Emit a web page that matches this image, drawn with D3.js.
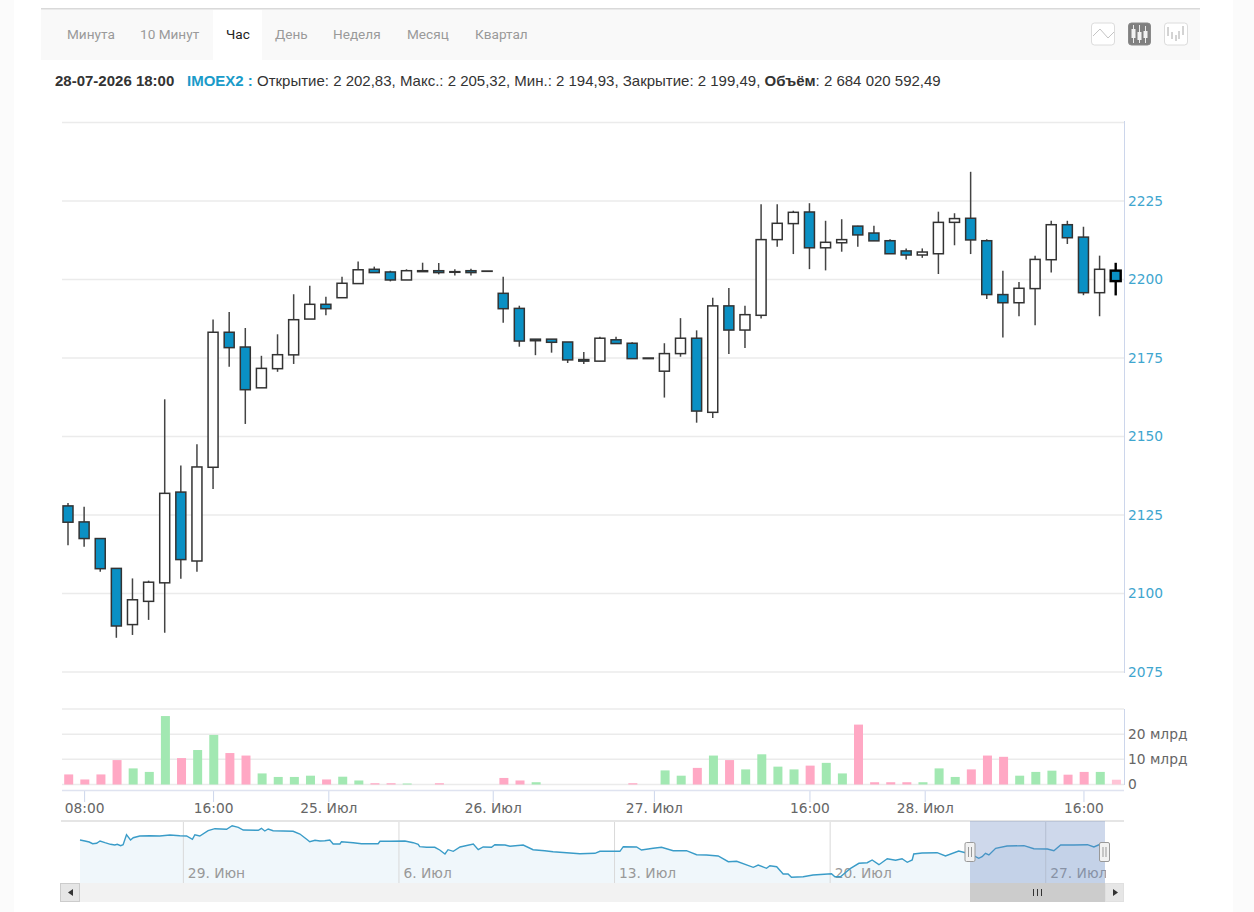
<!DOCTYPE html>
<html lang="ru">
<head>
<meta charset="utf-8">
<title>IMOEX2</title>
<script src="https://cdnjs.cloudflare.com/ajax/libs/d3/7.8.5/d3.min.js"></script>
<style>
  html, body { margin: 0; padding: 0; background: #fff; }
  svg { display: block; }
  .axis text { font-family: "DejaVu Sans", sans-serif; font-size: 13.8px; }
  .axis .domain { display: none; }
</style>
</head>
<body>
<div id="chart"></div>
<script>
// Hourly candles, oldest first
const opens = [2127.9,2122.8,2117.5,2108.0,2090.1,2097.5,2103.4,2132.3,2110.35,2140.2,2183.2,2178.5,2165.5,2171.6,2176,2187.4,2192.1,2194.2,2198.7,2203.25,2202.4,2199.85,2202.5,2202.8,2202.3,2202.8,2202.6,2195.6,2190.8,2181,2181,2180.1,2174.5,2174,2180.8,2179.7,2174.8,2170.8,2176.4,2181.3,2157.7,2191.6,2183.9,2188.6,2212.7,2217.8,2221.5,2210.1,2211.7,2217,2214.8,2212.35,2209.1,2207.8,2208.2,2218.2,2219.5,2212.35,2195.2,2192.6,2197.1,2206.3,2217.45,2213.5,2195.8,2202.83];
const highs = [2128.8,2127.6,2117.6,2108.0,2104.8,2104.1,2161.85,2140.8,2147.5,2187.3,2189.65,2184.55,2175.7,2182.55,2195.3,2198,2194.5,2200.9,2205.7,2204.1,2202.8,2203.25,2205.35,2205.25,2203.25,2203.45,2202.7,2200.9,2191.65,2181,2181,2180.1,2176.9,2181.8,2181.8,2180,2175,2179.7,2187.7,2183.8,2194.2,2197.3,2191.65,2223.95,2223.95,2221.9,2224.3,2218.7,2219.2,2217.1,2217.1,2212.8,2209.9,2209.9,2221.6,2221.1,2234.3,2212.8,2202.8,2199.2,2207.6,2218.7,2218.7,2216.8,2207.6,2205.32];
const lows = [2115.4,2114.9,2106.9,2085.9,2086.8,2091.6,2087.5,2104.7,2106.9,2133.3,2172.2,2154,2165.5,2170.6,2173.1,2187.4,2188.6,2194.2,2198.7,2202.2,2199.4,2199.85,2202.5,2201.65,2201.3,2201.3,2202.6,2186.25,2178.6,2175.9,2176.7,2173.4,2173.1,2174,2179.6,2174.8,2174.8,2162.4,2175.4,2154.4,2155.9,2176.3,2178.2,2187.6,2210.45,2208.1,2203.3,2202.9,2208.85,2210.45,2212.3,2208.2,2206.4,2206.9,2201.75,2210.9,2208.1,2193.8,2181.5,2188.3,2185.4,2202.2,2211.3,2195,2188.3,2194.93];
const closes = [2122.7,2117.5,2107.9,2089.65,2098.0,2103.6,2131.9,2110.8,2140.3,2183.2,2178.3,2164.9,2171.7,2176.05,2187.2,2192.1,2190.7,2198.8,2203.1,2202.2,2199.85,2202.8,2202.8,2202.2,2202.5,2202.2,2202.7,2190.7,2180.4,2180.5,2180,2174.4,2174,2181.3,2179.6,2174.8,2175,2176.4,2181.3,2158.1,2191.6,2183.9,2188.8,2212.7,2217.9,2221.4,2210.1,2211.85,2212.7,2214.2,2212.3,2208.2,2207.8,2208.75,2218.2,2219.4,2212.6,2195.2,2192.6,2197.2,2206.4,2217.45,2213.3,2195.8,2203.25,2199.49];

// Traded volume per candle, billions; "u" bars are green, "d" bars pink, "l" the unfinished pale bar
const volumes = [4,2,4,9.7,6.4,5,27.2,10.5,13.7,19.7,12.5,11.5,4.4,3,3,3.5,2,3.1,1.6,0.5,0.5,0.4,0,0.5,0,0,0,2.6,1.6,0.9,0,0,0,0,0,0.5,0,5.6,3.5,6.6,11.5,9.7,6,12,7.1,6,7.5,8.6,4.4,23.8,0.9,0.9,0.9,0.9,6.4,3,6,11.5,11,3.5,5,5.5,3.9,5,5,1.9];
const volumeDirs = ["d","d","d","d","u","u","u","d","u","u","d","d","u","u","u","u","d","u","u","d","d","u","d","d","d","d","d","d","d","u","d","d","d","d","d","d","d","u","u","d","u","d","u","u","u","u","d","u","u","d","d","d","d","u","u","u","d","d","d","u","u","u","d","d","u","l"];

// Axis ticks; positions are candle indices, fractional where a day starts between candles
const priceTicks = [2075,2100,2125,2150,2175,2200,2225];
const volumeTicks = [0,10,20];
const timeTickPos = [1,9,16.15,26.35,36.35,46,53.15,63];
const timeTickLabels = ["08:00","16:00","25. Июл","26. Июл","27. Июл","16:00","28. Июл","16:00"];

// Overview series: days since 29 June and index level
const navDays = [-3.34,-3.18,-3.04,-2.93,-2.80,-2.69,-2.53,-2.35,-2.21,-2.13,-2.02,-1.94,-1.83,-1.70,-1.61,-1.40,-1.07,-0.75,-0.42,-0.10,0.12,0.31,0.39,0.55,0.82,1.04,1.42,1.60,1.80,1.96,2.45,2.55,2.66,2.77,2.93,3.58,3.80,4.02,4.12,4.29,4.45,4.61,4.77,4.88,5.10,5.15,5.53,5.80,6.34,6.40,6.72,7.21,7.48,7.64,7.69,7.91,8.18,8.34,8.51,8.61,8.78,9.00,9.43,9.59,9.75,10.02,10.13,10.46,10.62,11.05,11.37,11.75,12.02,12.46,12.89,13.38,13.54,14.19,14.30,14.73,14.89,15.27,15.54,15.92,16.35,16.68,17.00,17.38,17.71,17.98,18.52,18.68,18.95,19.06,19.28,19.49,19.65,19.76,20.14,20.46,21.06,21.17,21.35,21.68,21.95,22.22,22.38,22.60,22.87,23.14,23.35,23.52,23.68,23.73,24.00,24.49,24.76,25.19,25.41,25.63,25.84,25.95,26.06,26.17,26.39,26.76,27.31,27.63,28.07,28.28,28.50,28.93,29.37,29.58,29.80,29.94];
const navValues = [2250,2240,2230,2213,2217,2240,2223,2207,2200,2207,2193,2203,2303,2250,2273,2290,2293,2290,2300,2293,2290,2257,2303,2290,2343,2363,2357,2393,2377,2350,2347,2367,2340,2360,2343,2337,2310,2257,2233,2247,2240,2243,2250,2210,2210,2233,2223,2213,2213,2237,2237,2240,2223,2207,2183,2177,2177,2150,2110,2153,2137,2180,2210,2153,2180,2177,2203,2200,2187,2200,2153,2143,2133,2123,2113,2117,2137,2137,2183,2180,2150,2167,2177,2143,2143,2103,2100,2090,2033,2037,1977,2000,1967,1993,1983,1910,1910,1877,1883,1900,1913,1883,1883,1967,2017,2023,2050,2003,2063,2047,2063,2027,2050,2110,2120,2123,2090,2140,2123,2100,2067,2083,2117,2100,2167,2190,2193,2163,2160,2143,2200,2200,2203,2180,2210,2207];
const navTickDays = [0,7,14,21,28];
const navTickLabels = ["29. Июн","6. Июл","13. Июл","20. Июл","27. Июл"];

// Toolbar and caption text
const tabs = ["Минута","10 Минут","Час","День","Неделя","Месяц","Квартал"];
const tabX = [67,140,226,275,333,407,475];
const caption = ["Открытие: 2 202,83, Макс.: 2 205,32, Мин.: 2 194,93, Закрытие: 2 199,49, ", "Объём", ": 2 684 020 592,49"];

const W = 1254, H = 912;
const BLUE = "#0a90c4", LINE = "#ccd6eb", GRID = "#ebebeb";
const svg = d3.select("#chart").append("svg").attr("width", W).attr("height", H);

// Faint page margins
svg.append("rect").attr("x", 0).attr("y", 0).attr("width", 14).attr("height", H).attr("fill", "#fbfbfb");
svg.append("rect").attr("x", 1233).attr("y", 0).attr("width", 21).attr("height", H).attr("fill", "#fbfbfb");

// Toolbar
const bar = svg.append("g");
bar.append("rect").attr("x", 41).attr("y", 9).attr("width", 1159).attr("height", 51).attr("fill", "#f9f9f9");
bar.append("rect").attr("x", 41).attr("y", 8).attr("width", 1159).attr("height", 1.5).attr("fill", "#d9d9d9");
bar.append("rect").attr("x", 213).attr("y", 10).attr("width", 49).attr("height", 50).attr("fill", "#fff");
bar.selectAll("text.tab").data(tabs).join("text").attr("class", "tab")
  .attr("x", (d, i) => tabX[i]).attr("y", 39)
  .attr("font-family", "Roboto, sans-serif").attr("font-size", 13.6)
  .attr("fill", d => d === "Час" ? "#222" : "#9a9a9a").text(d => d);

// Chart type buttons
const btn = (x, w, fill) => bar.append("rect").attr("x", x).attr("y", 23).attr("width", w).attr("height", 22)
  .attr("rx", 3).attr("fill", fill).attr("stroke", fill === "#fff" ? "#dcdcdc" : "#8a8a8a");
btn(1091.5, 23, "#fff"); btn(1128.5, 22, "#808080"); btn(1164.5, 23, "#fff");
bar.append("path").attr("d", "M1093 36 L1100 29 L1108 38 L1114 32").attr("fill", "none").attr("stroke", "#c4c4c4");
[[1133.5, 25, 43, 29, 38], [1139.5, 25, 43, 32, 40], [1145.5, 26, 43, 31, 38]].forEach(c => {
  bar.append("line").attr("x1", c[0]).attr("x2", c[0]).attr("y1", c[1]).attr("y2", c[2]).attr("stroke", "#ececec");
  bar.append("rect").attr("x", c[0] - 2).attr("y", c[3]).attr("width", 4).attr("height", c[4] - c[3]).attr("fill", "#f2f2f2");
});
[[1168, 27, 36], [1172, 32, 39], [1176, 35, 41], [1179, 31, 39], [1183, 26, 35]].forEach(c => {
  bar.append("line").attr("x1", c[0]).attr("x2", c[0]).attr("y1", c[1]).attr("y2", c[2]).attr("stroke", "#a8a8a8");
});

// Caption line
const cap = svg.append("text").attr("y", 86).attr("font-family", "'Liberation Sans', sans-serif").attr("font-size", 15).attr("fill", "#333");
cap.append("tspan").attr("x", 55).attr("font-weight", "bold").text("28-07-2026 18:00");
cap.append("tspan").attr("x", 187).attr("font-weight", "bold").attr("fill", "#1a9bc9").text("IMOEX2 : ");
cap.append("tspan").text(caption[0]);
cap.append("tspan").attr("font-weight", "bold").text(caption[1]);
cap.append("tspan").text(caption[2]);

// Shared scales
const x = d3.scaleLinear().domain([0, 65]).range([68, 1115.7]);
const y = d3.scaleLinear().domain([2075, 2250]).range([672, 122.5]);
const yVol = d3.scaleLinear().domain([0, 30]).range([784.5, 709]);
const xNav = d3.scaleLinear().domain([-3.34, 29.94]).range([80, 1105]);
const yNav = d3.scaleLinear().domain([1820, 2430]).range([883, 822]);

// Price panel grid and axis
const gridPrices = [...priceTicks, 2250];
svg.append("g").selectAll("line").data(gridPrices).join("line")
  .attr("x1", 62).attr("x2", 1124).attr("y1", d => y(d)).attr("y2", d => y(d))
  .attr("stroke", GRID).attr("stroke-width", 1.5);
svg.append("line").attr("x1", 1124.5).attr("x2", 1124.5).attr("y1", 121).attr("y2", 673).attr("stroke", LINE);
const priceAxis = svg.append("g").attr("class", "axis").attr("transform", "translate(1128,0)")
  .call(d3.axisRight(y).tickValues(priceTicks).tickSize(0).tickPadding(0).tickFormat(d3.format("d")));
priceAxis.selectAll("text").attr("fill", "#3fa6cf");

// Candles
const idx = d3.range(opens.length);
const candles = svg.append("g");
candles.selectAll("line").data(idx).join("line")
  .attr("x1", i => x(i)).attr("x2", i => x(i))
  .attr("y1", i => y(highs[i])).attr("y2", i => y(lows[i]))
  .attr("stroke", i => i === 65 ? "#000" : "#444")
  .attr("stroke-width", i => i === 65 ? 2.4 : 1.5);
candles.selectAll("rect").data(idx).join("rect")
  .attr("x", i => x(i) - 5).attr("width", 10)
  .attr("y", i => y(Math.max(opens[i], closes[i])))
  .attr("height", i => Math.abs(y(opens[i]) - y(closes[i])))
  .attr("fill", i => closes[i] < opens[i] ? BLUE : "#fff")
  .attr("stroke", i => i === 65 ? "#000" : "#333")
  .attr("stroke-width", i => i === 65 ? 2.4 : 1.5);

// Volume panel
svg.append("g").selectAll("line").data([0, 10, 20, 30]).join("line")
  .attr("x1", 62).attr("x2", 1124).attr("y1", d => yVol(d)).attr("y2", d => yVol(d))
  .attr("stroke", GRID).attr("stroke-width", 1.5);
svg.append("line").attr("x1", 1124.5).attr("x2", 1124.5).attr("y1", 709).attr("y2", 785).attr("stroke", LINE);
const volColor = { u: "#a2e8b2", d: "#ffa8c4", l: "#ffc4d6" };
svg.append("g").selectAll("rect").data(idx).join("rect")
  .attr("x", i => x(i) + 0.7 - 4.5).attr("width", 9)
  .attr("y", i => yVol(volumes[i]))
  .attr("height", i => yVol(0) - yVol(volumes[i]))
  .attr("fill", i => volColor[volumeDirs[i]]);
const volAxis = svg.append("g").attr("class", "axis").attr("transform", "translate(1128,0)")
  .call(d3.axisRight(yVol).tickValues(volumeTicks).tickSize(0).tickPadding(0)
    .tickFormat(d => d === 0 ? "0" : d + " млрд"));
volAxis.selectAll("text").attr("fill", "#666");

// Time axis
const timeAxis = svg.append("g").attr("class", "axis").attr("transform", "translate(0,791)")
  .call(d3.axisBottom(x).tickValues(timeTickPos).tickSize(11).tickPadding(1)
    .tickFormat((d, i) => timeTickLabels[i]));
timeAxis.selectAll("line").attr("stroke", LINE);
timeAxis.selectAll("text").attr("fill", "#666");
svg.append("line").attr("x1", 62).attr("x2", 1124).attr("y1", 790.5).attr("y2", 790.5).attr("stroke", "#dfe3f0").attr("stroke-width", 1.5);

// Overview navigator
const navIdx = d3.range(navDays.length);
svg.append("clipPath").attr("id", "nav-clip").append("rect")
  .attr("x", 60).attr("y", 815).attr("width", 1046).attr("height", 75);
const nav = svg.append("g");
nav.append("line").attr("x1", 61).attr("x2", 1124).attr("y1", 821).attr("y2", 821).attr("stroke", "#dcdcdc").attr("stroke-width", 1.5);
nav.append("path").datum(navIdx)
  .attr("fill", "#f0f7fb")
  .attr("d", d3.area().x(i => xNav(navDays[i])).y0(884).y1(i => yNav(navValues[i])));
const navAxis = nav.append("g").attr("class", "axis").attr("transform", "translate(0,822)")
  .call(d3.axisBottom(xNav).tickValues(navTickDays).tickSize(61).tickPadding(0).tickFormat(() => ""));
navAxis.selectAll("line").attr("stroke", "#d9d9d9");
nav.append("g").attr("clip-path", "url(#nav-clip)")
  .selectAll("text").data(navTickDays).join("text")
  .attr("x", d => xNav(d) + 5).attr("y", 878)
  .attr("font-family", "'DejaVu Sans', sans-serif").attr("font-size", 13.8).attr("fill", "#999")
  .text((d, i) => navTickLabels[i]);
nav.append("path").datum(navIdx)
  .attr("fill", "none").attr("stroke", "#3a9cc8").attr("stroke-width", 1.4)
  .attr("d", d3.line().x(i => xNav(navDays[i])).y(i => yNav(navValues[i])));

// Scrollbar track and buttons
nav.append("rect").attr("x", 60).attr("y", 883).attr("width", 1064).attr("height", 19).attr("fill", "#f2f2f2");
nav.append("rect").attr("x", 60.5).attr("y", 883.5).attr("width", 19).attr("height", 18).attr("fill", "#e6e6e6").attr("stroke", "#ccc");
nav.append("rect").attr("x", 1105.5).attr("y", 883.5).attr("width", 18).attr("height", 18).attr("fill", "#e6e6e6").attr("stroke", "#e0e0e0");
nav.append("path").attr("d", "M73 889 L68 892.5 L73 896 Z").attr("fill", "#333");
nav.append("path").attr("d", "M1113 889 L1118 892.5 L1113 896 Z").attr("fill", "#333");
nav.append("rect").attr("x", 970).attr("y", 883).attr("width", 135).attr("height", 19).attr("fill", "#cccccc");
[1033.5, 1037.5, 1041.5].forEach(px => nav.append("line").attr("x1", px).attr("x2", px).attr("y1", 889).attr("y2", 896).attr("stroke", "#333"));

// Selected range and its handles
nav.append("rect").attr("x", 970).attr("y", 821).attr("width", 135).attr("height", 62).attr("fill", "rgba(102,133,194,0.32)");
[970, 1104.5].forEach(px => {
  nav.append("rect").attr("x", px - 5).attr("y", 842.5).attr("width", 10).attr("height", 19).attr("rx", 1.5)
    .attr("fill", "#f2f2f2").attr("stroke", "#999");
  [-1.5, 1.5].forEach(o => nav.append("line").attr("x1", px + o).attr("x2", px + o).attr("y1", 847).attr("y2", 857).attr("stroke", "#999"));
});
</script>
</body>
</html>
